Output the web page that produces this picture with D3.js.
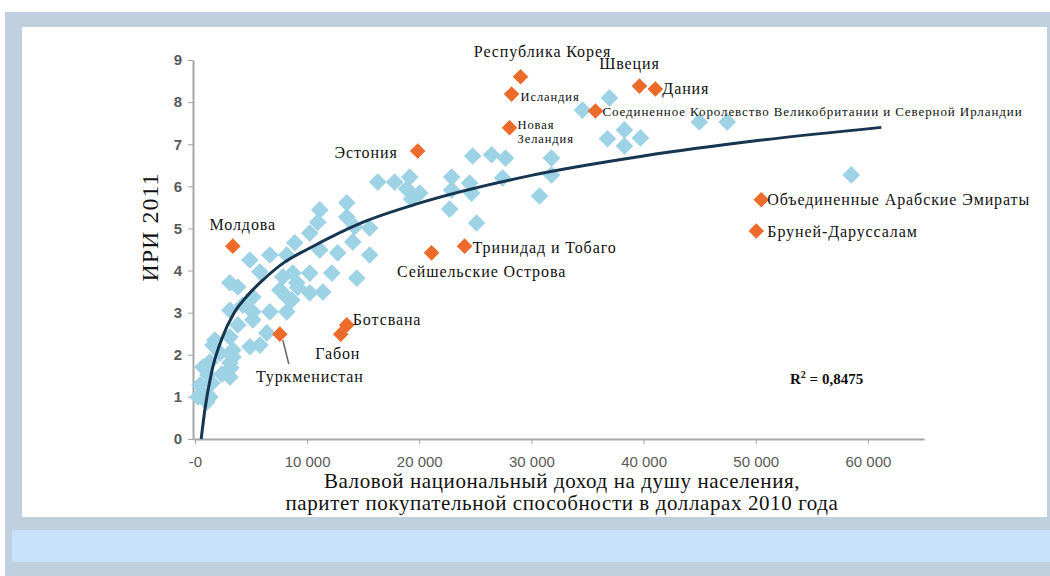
<!DOCTYPE html>
<html>
<head>
<meta charset="utf-8">
<script src="https://cdn.jsdelivr.net/npm/d3@7"></script>
<style>
  body { margin: 0; background: #fff; }
  svg { display: block; }
</style>
</head>
<body>
<div id="chart"></div>
<script>
// Light blue points: GNI per capita (PPP, 2010 $) and HDI-like index 2011
const otherGni = [270, 710, 1070, 1340, 450, 1510, 1160, 710, 1340, 2400, 3210, 3120, 3120, 3380, 2230,
  1780, 1600, 3380, 4900, 5790, 3120, 6410, 3830, 5160, 5160, 6680, 8190, 3120, 4270, 5160,
  3120, 3830, 5790, 4900, 6680, 7840, 8730, 9080, 7570, 8190, 10240, 11400, 12200, 14430, 8190,
  8900, 10240, 11130, 12730, 14070, 15580, 10950, 13540, 11130, 13540, 14250, 15580, 10240, 8640, 9170,
  16300, 17810, 19150, 18880, 20040, 19320, 22890, 22710, 22890, 24490, 24760, 26450, 27690, 27430, 25110,
  31790, 31790, 30720, 24670, 34550, 36960, 36780, 38290, 38290, 39720, 44970, 47460, 58510];
const otherIndex = [1.00, 1.09, 0.88, 1.00, 1.28, 1.33, 1.52, 1.71, 1.83, 1.54, 1.69, 1.47, 1.81, 1.95, 2.04,
  2.35, 2.23, 2.11, 2.19, 2.23, 2.42, 2.52, 2.71, 2.83, 3.02, 3.02, 3.02, 3.06, 3.18, 3.37,
  3.71, 3.61, 3.97, 4.25, 4.37, 3.85, 3.94, 3.71, 3.54, 3.37, 3.47, 3.49, 3.94, 3.82, 4.37,
  4.66, 4.89, 4.49, 4.42, 4.68, 4.37, 5.15, 5.27, 5.44, 5.61, 5.04, 5.01, 3.94, 3.30, 3.60,
  6.10, 6.10, 6.22, 5.94, 5.84, 5.70, 6.22, 5.46, 5.91, 6.08, 6.72, 6.75, 6.67, 6.20, 5.13,
  6.67, 6.27, 5.77, 5.84, 7.81, 8.10, 7.13, 6.96, 7.34, 7.15, 7.53, 7.53, 6.27];

// Highlighted (orange) countries
const countries = ["Республика Корея", "Исландия", "Новая Зеландия", "Швеция", "Дания",
  "Соединенное Королевство Великобритании и Северной Ирландии", "Эстония",
  "Объединенные Арабские Эмираты", "Бруней-Даруссалам", "Тринидад и Тобаго",
  "Сейшельские Острова", "Молдова", "Ботсвана", "Габон", "Туркменистан"];
const countryGni = [29030, 28230, 28050, 39630, 41050, 35710, 19860, 50490, 50050, 24040, 21100, 3380, 13540, 13000, 7570];
const countryIndex = [8.60, 8.19, 7.39, 8.38, 8.31, 7.79, 6.84, 5.68, 4.94, 4.58, 4.42, 4.58, 2.71, 2.49, 2.49];

// Logarithmic trend line
const trendGni = [560, 900, 1500, 2400, 3500, 4500, 6000, 8000, 10000, 15000, 20000, 30000, 40000, 50000, 61200];
const trendIndex = [0, 0.72, 1.6, 2.38, 3.0, 3.35, 3.76, 4.2, 4.5, 5.15, 5.6, 6.26, 6.72, 7.08, 7.40];
const rSquared = "0,8475";

const xTickValues = [0, 10000, 20000, 30000, 40000, 50000, 60000];
const xTickLabels = ["-0", "10 000", "20 000", "30 000", "40 000", "50 000", "60 000"];
const yTickValues = [0, 1, 2, 3, 4, 5, 6, 7, 8, 9];

const xTitle = ["Валовой национальный доход на душу населения,",
  "паритет покупательной способности в долларах 2010 года"];
const yTitle = "ИРИ 2011";

// label placement (pixel offsets from the marker)
const labelPlacement = {
  "Республика Корея": { dx: 22, dy: -25, anchor: "middle", size: 16 },
  "Исландия": { dx: 9, dy: 3, anchor: "start", size: 12.5 },
  "Новая Зеландия": { dx: 8, dy: -3, anchor: "start", size: 12.5, lines: ["Новая", "Зеландия"] },
  "Швеция": { dx: -10, dy: -23, anchor: "middle", size: 16 },
  "Дания": { dx: 7, dy: -1, anchor: "start", size: 16 },
  "Соединенное Королевство Великобритании и Северной Ирландии": { dx: 7, dy: 0, anchor: "start", size: 13 },
  "Эстония": { dx: -20, dy: 1, anchor: "end", size: 16 },
  "Объединенные Арабские Эмираты": { dx: 6, dy: 0, anchor: "start", size: 16 },
  "Бруней-Даруссалам": { dx: 11, dy: 0, anchor: "start", size: 16 },
  "Тринидад и Тобаго": { dx: 8, dy: 1, anchor: "start", size: 16 },
  "Сейшельские Острова": { dx: 50, dy: 19, anchor: "middle", size: 16 },
  "Молдова": { dx: 10, dy: -22, anchor: "middle", size: 16 },
  "Ботсвана": { dx: 6, dy: -5, anchor: "start", size: 16 },
  "Габон": { dx: -3, dy: 19, anchor: "middle", size: 16 },
  "Туркменистан": { dx: 30, dy: 42, anchor: "middle", size: 16, leader: true }
};

const W = 1050, H = 576;
const svg = d3.select("#chart").append("svg")
  .attr("width", W)
  .attr("height", H);

// frame
svg.append("rect").attr("x", 5).attr("y", 12).attr("width", W - 5).attr("height", H - 12).attr("fill", "#c0d0de");
svg.append("rect").attr("x", 22).attr("y", 27).attr("width", 1025).attr("height", 490).attr("fill", "#fff");
svg.append("rect").attr("x", 12).attr("y", 530).attr("width", W - 12).attr("height", 32).attr("fill", "#c7e1fb");

// scales
const x = d3.scaleLinear().domain([-170, 65000]).range([193, 924]);
const y = d3.scaleLinear().domain([0, 9]).range([439, 60]);

// axes
const xAxis = svg.append("g")
  .attr("transform", `translate(0,${y(0)})`)
  .call(d3.axisBottom(x).tickValues(xTickValues).tickFormat((d, i) => xTickLabels[i])
    .tickSizeInner(5).tickSizeOuter(0).tickPadding(12));
xAxis.select(".domain").attr("stroke", "#a6a6a6").attr("stroke-width", 2);
xAxis.selectAll(".tick line").attr("stroke", "#a6a6a6");
xAxis.selectAll(".tick text").attr("fill", "#595959")
  .style("font-family", "'Liberation Sans', Arial, sans-serif").style("font-size", "15px");

const yAxis = svg.append("g")
  .attr("transform", `translate(${x(-170)},0)`)
  .call(d3.axisLeft(y).tickValues(yTickValues).tickFormat(d3.format("d"))
    .tickSizeInner(5).tickSizeOuter(0).tickPadding(6));
yAxis.select(".domain").attr("stroke", "#a6a6a6").attr("stroke-width", 2);
yAxis.selectAll(".tick line").attr("stroke", "#a6a6a6");
yAxis.selectAll(".tick text").attr("fill", "#595959")
  .style("font-family", "'Liberation Sans', Arial, sans-serif").style("font-size", "15px").style("font-weight", "bold");

// titles
const serif = "'Liberation Serif', 'Times New Roman', serif";
svg.append("text")
  .attr("transform", `translate(150,227) rotate(-90)`)
  .attr("text-anchor", "middle")
  .attr("dy", "0.35em")
  .style("font-family", serif).style("font-size", "24px").style("letter-spacing", "1px")
  .attr("fill", "#111")
  .text(yTitle);

svg.selectAll(".x-title")
  .data(xTitle)
  .join("text")
  .attr("class", "x-title")
  .attr("x", 562)
  .attr("y", (d, i) => 488 + i * 22)
  .attr("text-anchor", "middle")
  .style("font-family", serif).style("font-size", "21px").style("letter-spacing", "0.6px")
  .attr("fill", "#111")
  .text(d => d);

// markers
const diamond = (side) => d3.symbol().type(d3.symbolSquare).size(side * side);

const others = otherGni.map((g, i) => ({ gni: g, idx: otherIndex[i] }));
svg.append("g").selectAll("path")
  .data(others)
  .join("path")
  .attr("d", diamond(12.5))
  .attr("transform", d => `translate(${x(d.gni)},${y(d.idx)}) rotate(45)`)
  .attr("fill", "#9dd3e5");

// trend line
const trend = trendGni.map((g, i) => ({ gni: g, idx: trendIndex[i] }));
svg.append("path")
  .datum(trend)
  .attr("fill", "none")
  .attr("stroke", "#16354f")
  .attr("stroke-width", 3)
  .attr("d", d3.line().x(d => x(d.gni)).y(d => y(d.idx)).curve(d3.curveMonotoneX));

// highlighted countries
const highlighted = countries.map((c, i) => ({ name: c, gni: countryGni[i], idx: countryIndex[i] }));
svg.append("g").selectAll("path")
  .data(highlighted)
  .join("path")
  .attr("d", diamond(11))
  .attr("transform", d => `translate(${x(d.gni)},${y(d.idx)}) rotate(45)`)
  .attr("fill", "#ec6a2a");

// leader line for Туркменистан
highlighted.filter(d => labelPlacement[d.name].leader).forEach(d => {
  svg.append("line")
    .attr("x1", x(d.gni) + 3).attr("y1", y(d.idx) + 6)
    .attr("x2", x(d.gni) + 9).attr("y2", y(d.idx) + 30)
    .attr("stroke", "#666").attr("stroke-width", 1.5);
});

const labels = svg.append("g").selectAll("text")
  .data(highlighted)
  .join("text")
  .attr("x", d => x(d.gni) + labelPlacement[d.name].dx)
  .attr("y", d => y(d.idx) + labelPlacement[d.name].dy)
  .attr("dy", "0.35em")
  .attr("text-anchor", d => labelPlacement[d.name].anchor)
  .style("font-family", serif)
  .style("font-size", d => labelPlacement[d.name].size + "px")
  .style("letter-spacing", "0.9px")
  .attr("fill", "#111");

labels.each(function(d) {
  const p = labelPlacement[d.name];
  const sel = d3.select(this);
  if (p.lines) {
    p.lines.forEach((ln, i) => {
      sel.append("tspan").attr("x", x(d.gni) + p.dx).attr("dy", i === 0 ? "0.35em" : "1.1em").text(ln);
    });
    sel.attr("dy", null);
  } else {
    sel.text(d.name);
  }
});

// R squared
const r2 = svg.append("text")
  .attr("x", 790).attr("y", 384)
  .style("font-family", serif).style("font-size", "15px").style("font-weight", "bold")
  .attr("fill", "#111");
r2.append("tspan").text("R");
r2.append("tspan").attr("dy", -6).style("font-size", "10px").text("2");
r2.append("tspan").attr("dy", 6).text(" = " + rSquared);
</script>
</body>
</html>
